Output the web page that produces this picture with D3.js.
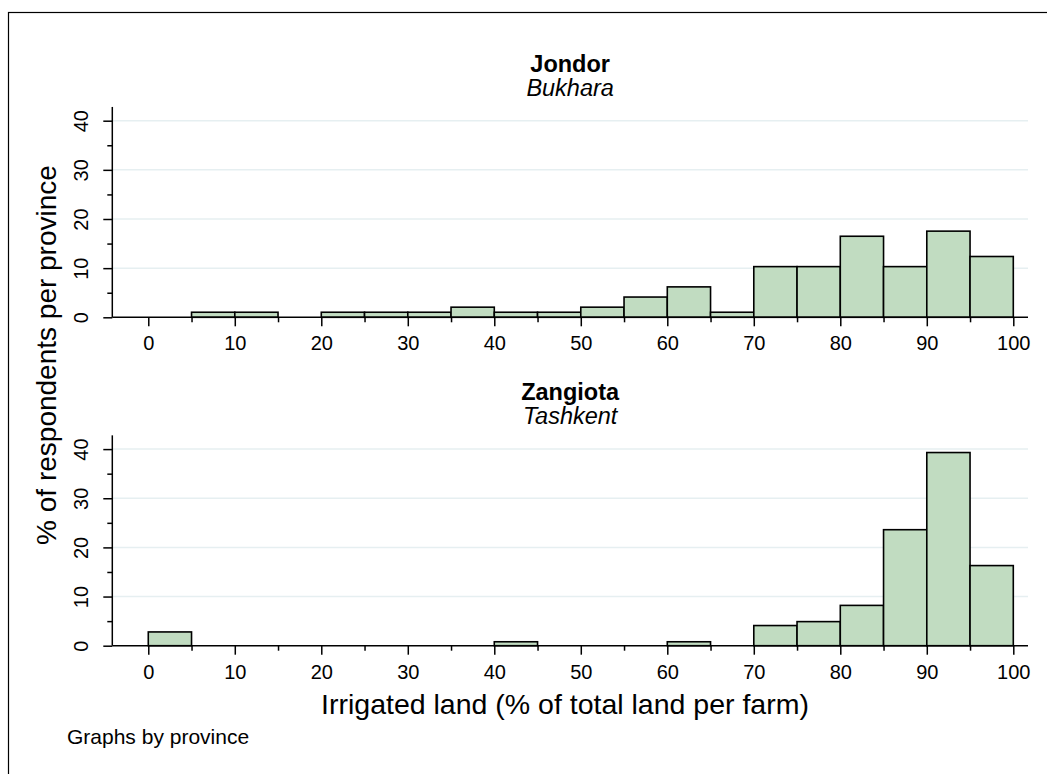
<!DOCTYPE html>
<html>
<head>
<meta charset="utf-8">
<script src="https://cdn.jsdelivr.net/npm/d3@7"></script>
<style>
  html, body { margin: 0; padding: 0; background: #fff; }
  svg { display: block; }
  text { font-family: "Liberation Sans", Arial, Helvetica, sans-serif; fill: #000; }
</style>
</head>
<body>
<svg id="chart" width="1047" height="774"></svg>
<script>
// ---- data ----
const binStarts = [0,5,10,15,20,25,30,35,40,45,50,55,60,65,70,75,80,85,90,95];
const binWidth = 5;
const jondorValues = [0,1.03,1.03,0,1.03,1.03,1.03,2.06,1.03,1.03,2.06,4.12,6.19,1.03,10.31,10.31,16.49,10.31,17.53,12.37];
const zangiotaValues = [2.8,0,0,0,0,0,0,0,0.8,0,0,0,0.8,0,4.1,4.9,8.2,23.6,39.3,16.3];
const panelTitles = ["Jondor","Zangiota"];
const panelSubtitles = ["Bukhara","Tashkent"];
const xTicks = [0,10,20,30,40,50,60,70,80,90,100];
const xMinorTicks = [5,15,25,35,45,55,65,75,85,95];
const yTicks = [0,10,20,30,40];
const yMinorTicks = [5,15,25,35];
const xTitle = "Irrigated land (% of total land per farm)";
const yTitle = "% of respondents per province";
const noteText = "Graphs by province";

const svg = d3.select("#chart");

// outer frame (extends past the image at right/bottom)
svg.append("rect").attr("x", 8.5).attr("y", 12.5).attr("width", 1200).attr("height", 900)
  .attr("fill", "none").attr("stroke", "#000").attr("stroke-width", 1.2);

const x = d3.scaleLinear().domain([-4.16, 101.7]).range([112.3, 1028]);
const panels = [
  {values: jondorValues, base: 317.3},
  {values: zangiotaValues, base: 645.7}
];
const unit = (317.3 - 120.7) / 40;
const yMax = 42.8;

const barFill = "#c1dcc1";

panels.forEach((p, i) => {
  const y = d3.scaleLinear().domain([0, yMax]).range([p.base, p.base - yMax * unit]);
  const g = svg.append("g");

  // gridlines
  g.selectAll("line.grid").data(yTicks.filter(d => d > 0)).join("line")
    .attr("x1", x.range()[0]).attr("x2", x.range()[1])
    .attr("y1", d => y(d)).attr("y2", d => y(d))
    .attr("stroke", "#e6eff1").attr("stroke-width", 1.5);

  // bars
  const data = binStarts.map((s, k) => ({s, v: p.values[k]})).filter(d => d.v > 0);
  g.selectAll("rect.bar").data(data).join("rect")
    .attr("x", d => x(d.s)).attr("width", d => x(d.s + binWidth) - x(d.s))
    .attr("y", d => y(d.v)).attr("height", d => y(0) - y(d.v))
    .attr("fill", barFill).attr("stroke", "#000").attr("stroke-width", 1.6);

  // x axis
  const xAxis = d3.axisBottom(x).tickValues(xTicks).tickSize(9).tickPadding(10).tickFormat(d3.format("d"));
  const gx = g.append("g").attr("transform", `translate(0,${p.base})`).call(xAxis);
  gx.select(".domain").attr("d", `M${x.range()[0]},0H${x.range()[1]}`);
  const xMinor = d3.axisBottom(x).tickValues(xMinorTicks).tickSize(5).tickFormat("");
  const gxm = g.append("g").attr("transform", `translate(0,${p.base})`).call(xMinor);
  gxm.select(".domain").remove();

  // y axis
  const yAxis = d3.axisLeft(y).tickValues(yTicks).tickSize(9).tickFormat(d3.format("d"));
  const gy = g.append("g").attr("transform", `translate(${x.range()[0]},0)`).call(yAxis);
  gy.select(".domain").attr("d", `M0,${y.range()[0]}V${y.range()[1]}`);
  gy.selectAll("text").attr("x", null).attr("dy", null)
    .attr("transform", "translate(-24,0) rotate(-90)").attr("text-anchor", "middle");
  const yMinor = d3.axisLeft(y).tickValues(yMinorTicks).tickSize(5).tickFormat("");
  const gym = g.append("g").attr("transform", `translate(${x.range()[0]},0)`).call(yMinor);
  gym.select(".domain").remove();

  [gx, gxm, gy, gym].forEach(a => {
    a.selectAll("path, line").attr("stroke", "#000").attr("stroke-width", 1.5);
    a.selectAll("text").attr("font-size", 20).attr("font-family", null).attr("fill", "#000");
  });

  // panel titles
  const cx = (x.range()[0] + x.range()[1]) / 2;
  const topY = y(yMax);
  g.append("text").attr("x", cx).attr("y", topY - 35).attr("text-anchor", "middle")
    .attr("font-size", 23.5).attr("font-weight", "bold").text(panelTitles[i]);
  g.append("text").attr("x", cx).attr("y", topY - 11).attr("text-anchor", "middle")
    .attr("font-size", 23.5).attr("font-style", "italic").text(panelSubtitles[i]);
});

// axis titles
svg.append("text").attr("x", 565).attr("y", 714).attr("text-anchor", "middle")
  .attr("font-size", 28.5).text(xTitle);
svg.append("text").attr("transform", "translate(56,355) rotate(-90)").attr("text-anchor", "middle")
  .attr("font-size", 28).text(yTitle);

// note
svg.append("text").attr("x", 67).attr("y", 744).attr("font-size", 21).text(noteText);
</script>
</body>
</html>
